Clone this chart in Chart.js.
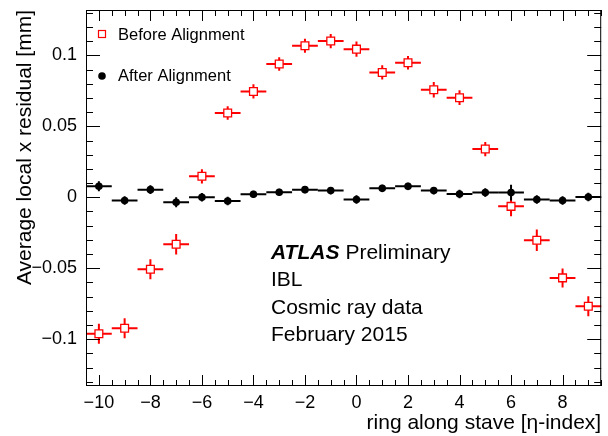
<!DOCTYPE html>
<html><head><meta charset="utf-8">
<script src="https://cdn.jsdelivr.net/npm/chart.js@4"></script>
<style>html,body{margin:0;padding:0;background:#fff;}</style>
</head><body>
<canvas id="c" width="608" height="436"></canvas>
<script>
const rings = [-10,-9,-8,-7,-6,-5,-4,-3,-2,-1,0,1,2,3,4,5,6,7,8,9];
const beforeAlign = [-0.0962,-0.0923,-0.0507,-0.0331,0.0148,0.0594,0.0746,0.0939,0.1068,0.1101,0.1044,0.0880,0.0948,0.0758,0.0702,0.0340,-0.0064,-0.0303,-0.0568,-0.0768];
const beforeErr = [0.0070,0.0070,0.0070,0.0073,0.0050,0.0047,0.0050,0.0048,0.0050,0.0050,0.0054,0.0050,0.0047,0.0054,0.0052,0.0050,0.0070,0.0076,0.0067,0.0070];
const afterAlign = [0.0078,-0.0023,0.0054,-0.0035,0.0000,-0.0026,0.0021,0.0035,0.0054,0.0047,-0.0016,0.0063,0.0077,0.0047,0.0023,0.0033,0.0033,-0.0016,-0.0023,0.0002];
const afterErr = [0.0035,0.0030,0.0030,0.0035,0.0030,0.0030,0.0025,0.0025,0.0025,0.0025,0.0030,0.0025,0.0025,0.0025,0.0030,0.0030,0.0055,0.0030,0.0030,0.0030];
const binHalfWidth = 0.5;
const xTicks = [-10,-8,-6,-4,-2,0,2,4,6,8];
const xTickLabels = ['\u221210','\u22128','\u22126','\u22124','\u22122','0','2','4','6','8'];
const yTicks = [-0.1,-0.05,0,0.05,0.1];
const yTickLabels = ['\u22120.1','\u22120.05','0','0.05','0.1'];
const xRange = [-10.5, 9.5];
const yRange = [-0.133, 0.132];
const xMinorStep = 0.5;
const yMinorStep = 0.01;
const atlasLabel = 'ATLAS';
const atlasSub = 'Preliminary';
const infoLines = ['IBL','Cosmic ray data','February 2015'];
const seriesNames = ['Before Alignment','After Alignment'];

const FF = '"Liberation Sans", Arial, Helvetica, sans-serif';

const errorBars = {
  id: 'errorBars',
  beforeDatasetsDraw(chart) {
    const {ctx, scales: {x, y}} = chart;
    ctx.save();
    chart.data.datasets.forEach((ds, di) => {
      const meta = chart.getDatasetMeta(di);
      if (meta.hidden) return;
      ctx.strokeStyle = ds.borderColor;
      ctx.lineWidth = 2;
      ds.data.forEach(p => {
        const px = x.getPixelForValue(p.x);
        const py = y.getPixelForValue(p.y);
        ctx.beginPath();
        ctx.moveTo(x.getPixelForValue(p.x - binHalfWidth), py);
        ctx.lineTo(x.getPixelForValue(p.x + binHalfWidth), py);
        ctx.moveTo(px, y.getPixelForValue(p.y - p.err));
        ctx.lineTo(px, y.getPixelForValue(p.y + p.err));
        ctx.stroke();
      });
    });
    ctx.restore();
  }
};

const frameAndText = {
  id: 'frameAndText',
  afterDraw(chart) {
    const {ctx, chartArea: a, scales: {x, y}} = chart;
    ctx.save();
    ctx.strokeStyle = '#000';
    ctx.lineWidth = 1;
    ctx.strokeRect(a.left + 0.5, a.top + 0.5, a.right - a.left - 1, a.bottom - a.top - 1);
    ctx.beginPath();
    const nx0 = Math.round(xRange[0] / xMinorStep), nx1 = Math.round(xRange[1] / xMinorStep);
    for (let k = nx0; k <= nx1; k++) {
      const v = k * xMinorStep;
      const major = xTicks.indexOf(v) >= 0;
      const px = Math.round(x.getPixelForValue(v)) + 0.5;
      const L = major ? 11 : 6;
      ctx.moveTo(px, a.bottom); ctx.lineTo(px, a.bottom - L);
      ctx.moveTo(px, a.top); ctx.lineTo(px, a.top + L);
    }
    const ny0 = Math.ceil(yRange[0] / yMinorStep), ny1 = Math.floor(yRange[1] / yMinorStep);
    for (let k = ny0; k <= ny1; k++) {
      const v = k * yMinorStep;
      const major = (k % 5 === 0);
      const py = Math.round(y.getPixelForValue(v)) + 0.5;
      const L = major ? 14 : 7;
      ctx.moveTo(a.left, py); ctx.lineTo(a.left + L, py);
      ctx.moveTo(a.right, py); ctx.lineTo(a.right - L, py);
    }
    ctx.stroke();

    const ds = chart.data.datasets;
    ctx.font = '16.5px ' + FF;
    ctx.fillStyle = '#000';
    ctx.textBaseline = 'alphabetic';
    ctx.textAlign = 'left';
    ctx.fillText(ds[0].label, 118, 40);
    ctx.fillText(ds[1].label, 118, 81);
    ctx.strokeStyle = ds[0].borderColor;
    ctx.lineWidth = 1.2;
    ctx.fillStyle = '#fff';
    ctx.fillRect(98.5, 30.5, 7, 7);
    ctx.strokeRect(98.5, 30.5, 7, 7);
    ctx.fillStyle = ds[1].backgroundColor;
    ctx.beginPath();
    ctx.arc(102, 76, 3.8, 0, Math.PI * 2);
    ctx.fill();

    ctx.fillStyle = '#000';
    ctx.font = 'italic bold 21px ' + FF;
    ctx.fillText(atlasLabel, 271, 258.5);
    const w = ctx.measureText(atlasLabel).width;
    ctx.font = '21px ' + FF;
    ctx.fillText(atlasSub, 271 + w + 6, 258.5);
    infoLines.forEach((t, i) => ctx.fillText(t, 271, 286 + i * 27.5));
    ctx.restore();
  }
};

new Chart(document.getElementById('c'), {
  type: 'scatter',
  data: {
    datasets: [
      {
        label: seriesNames[0],
        data: rings.map((r, i) => ({x: r, y: beforeAlign[i], err: beforeErr[i]})),
        pointStyle: 'rect', pointRadius: 5.5, pointHoverRadius: 5.5,
        borderColor: '#ff0000', backgroundColor: '#ffffff', pointBorderWidth: 1.3
      },
      {
        label: seriesNames[1],
        data: rings.map((r, i) => ({x: r, y: afterAlign[i], err: afterErr[i]})),
        pointStyle: 'circle', pointRadius: 3.8, pointHoverRadius: 3.8,
        borderColor: '#000000', backgroundColor: '#000000', pointBorderWidth: 0
      }
    ]
  },
  options: {
    responsive: false,
    devicePixelRatio: 1,
    animation: false,
    layout: {padding: {top: 10, right: 2, left: 0, bottom: 0}},
    plugins: {legend: {display: false}, tooltip: {enabled: false}},
    scales: {
      x: {
        type: 'linear', position: 'bottom', min: xRange[0], max: xRange[1],
        grid: {display: false, drawTicks: false}, border: {display: false},
        afterBuildTicks: s => { s.ticks = xTicks.map(v => ({value: v})); },
        afterFit: s => { s.height = 50; s.paddingLeft = 0; s.paddingRight = 0; },
        ticks: {color: '#000', font: {size: 18, family: FF}, padding: 6, maxRotation: 0, autoSkip: false,
                callback: (v, i) => xTickLabels[i]},
        title: {display: true, text: 'ring along stave [\u03b7-index]', align: 'end', color: '#000',
                font: {size: 21, family: FF}, padding: {top: 0, bottom: 0}}
      },
      y: {
        type: 'linear', position: 'left', min: yRange[0], max: yRange[1],
        grid: {display: false, drawTicks: false}, border: {display: false},
        afterBuildTicks: s => { s.ticks = yTicks.map(v => ({value: v})); },
        afterFit: s => { s.width = 86; s.paddingTop = 0; s.paddingBottom = 0; },
        ticks: {color: '#000', font: {size: 18, family: FF}, padding: 9, autoSkip: false,
                callback: (v, i) => yTickLabels[i]},
        title: {display: true, text: 'Average local x residual [mm]', align: 'end', color: '#000',
                font: {size: 21, family: FF}, padding: {top: 13, bottom: 0}}
      }
    }
  },
  plugins: [errorBars, frameAndText]
});
</script>
</body></html>
